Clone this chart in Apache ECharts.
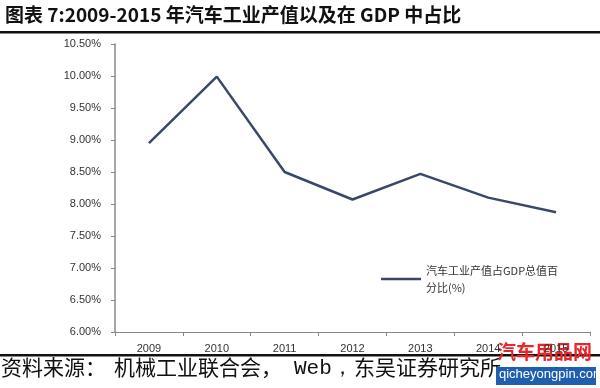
<!DOCTYPE html>
<html><head><meta charset="utf-8">
<script src="https://cdn.jsdelivr.net/npm/echarts@6/dist/echarts.min.js"></script>
<style>html,body{margin:0;padding:0;background:#fff}#c{width:600px;height:388px}</style>
</head><body><div id="c"></div>
<script>
const categories = ['2009','2010','2011','2012','2013','2014','2015'];
const shareValues = [8.95, 9.99, 8.50, 8.07, 8.47, 8.10, 7.87];
const seriesName = '汽车工业产值占GDP总值百分比(%)';
const titleText = '图表 7:2009-2015 年汽车工业产值以及在 GDP 中占比';
const sourceParts = ['资料来源：', '机械工业联合会，', 'Web，', '东吴证券研究所'];

const chart = echarts.init(document.getElementById('c'));
const srcStyle = {fontFamily: 'Noto Sans CJK SC', fontSize: 21, fill: '#111'};
chart.setOption({
  animation: false,
  backgroundColor: '#fff',
  grid: {left: 115, right: 10, top: 44, bottom: 56, containLabel: false},
  legend: {
    left: 376, top: 257, orient: 'vertical',
    data: [seriesName],
    icon: 'path://M0,0 L40,0 L40,2.5 L0,2.5 Z',
    itemWidth: 40, itemHeight: 3, itemGap: 4,
    formatter: () => '汽车工业产值占GDP总值百\n分比(%)',
    textStyle: {fontFamily: 'Noto Sans CJK SC', fontSize: 11, color: '#333', lineHeight: 17}
  },
  xAxis: {
    type: 'category', data: categories, boundaryGap: true,
    axisLine: {lineStyle: {color: '#888', width: 1}},
    axisTick: {show: true, alignWithLabel: false, length: 4, lineStyle: {color: '#888'}},
    axisLabel: {fontFamily: 'Liberation Sans', fontSize: 11, color: '#333', margin: 11}
  },
  yAxis: {
    type: 'value', min: 6, max: 10.5, interval: 0.5,
    splitLine: {show: false},
    axisLine: {show: true, lineStyle: {color: '#888', width: 1.5}},
    axisTick: {show: true, length: 4, lineStyle: {color: '#888'}},
    axisLabel: {fontFamily: 'Liberation Sans', fontSize: 11, color: '#333', margin: 14,
      formatter: v => v.toFixed(2) + '%'}
  },
  series: [{
    name: seriesName, type: 'line', data: shareValues,
    symbol: 'none', lineStyle: {color: '#3a4868', width: 2.5},
    itemStyle: {color: '#3a4868'}
  }],
  graphic: [
    {type: 'text', left: 5, top: 5, style: {text: titleText, fontFamily: 'Noto Sans CJK SC', fontWeight: 'bold', fontSize: 19, fill: '#111'}},
    {type: 'rect', shape: {x: 0, y: 31, width: 600, height: 2.5}, style: {fill: '#111'}},
    {type: 'rect', shape: {x: 0, y: 354, width: 600, height: 2.5}, style: {fill: '#111'}},
    {type: 'text', left: 1, top: 357, style: Object.assign({text: sourceParts[0]}, srcStyle)},
    {type: 'text', left: 114, top: 357, style: Object.assign({text: sourceParts[1]}, srcStyle)},
    {type: 'text', left: 294, top: 358, style: {text: sourceParts[2], fontFamily: 'Liberation Mono', fontSize: 21, fill: '#111'}},
    {type: 'text', left: 354, top: 357, style: Object.assign({text: sourceParts[3]}, srcStyle)},
    {type: 'text', left: 497, top: 342, style: {text: '汽车用品网', fontFamily: 'Noto Sans CJK SC', fontWeight: 'bold', fontSize: 19, fill: '#e8262a'}},
    {type: 'rect', shape: {x: 496, y: 367, width: 100, height: 18}, style: {fill: '#1f5fae'}},
    {type: 'text', left: 499, top: 368, style: {text: 'qicheyongpin.com', fontFamily: 'Liberation Sans', fontSize: 13, fill: '#fff'}}
  ]
});
</script></body></html>
